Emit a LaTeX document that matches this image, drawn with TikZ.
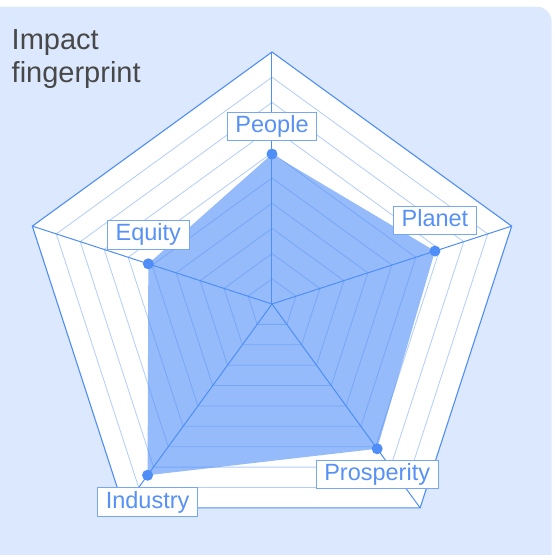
\documentclass[tikz,border=0pt]{standalone}
\usepackage{fontspec}
\setmainfont{Liberation Sans}
\usetikzlibrary{positioning}
\definecolor{bgblue}{RGB}{220,232,253}
\definecolor{axisblue}{RGB}{79,142,247}
\definecolor{gridblue}{RGB}{179,205,250}
\definecolor{tagblue}{RGB}{120,166,247}
\definecolor{textblue}{RGB}{88,145,245}
\definecolor{titlegrey}{RGB}{72,72,72}
\tikzstyle{gridline}=[gridblue,line width=0.8pt]
\tikzstyle{spoke}=[axisblue,line width=1pt]
\tikzstyle{datadot}=[circle,fill=axisblue,inner sep=0pt,minimum size=11pt]
\tikzstyle{tag}=[draw=tagblue,fill=white,line width=0.9pt,text=textblue,font=\fontsize{23.5}{24}\selectfont,inner xsep=8pt,inner ysep=3.2pt,text height=17pt,text depth=5pt]
\tikzstyle{titletext}=[anchor=base west,inner sep=0pt,text=titlegrey,font=\fontsize{29}{33}\selectfont]
\newcommand{\drawring}[2]{
\pgfmathsetmacro{\r}{#2}
\draw[#1] (90:\r) -- (18:\r) -- (-54:\r) -- (-126:\r) -- (162:\r) -- cycle;
}

\begin{document}
\begin{tikzpicture}[x=1pt,y=1pt]
	\pgfmathsetmacro{\radius}{252}
	\useasboundingbox (-272,-251) rectangle (283,304);
	\fill[bgblue,rounded corners=15pt] (-292,-271) rectangle (279.7,297.3);
	\fill[white] (90:\radius) -- (18:\radius) -- (-54:\radius) -- (-126:\radius) -- (162:\radius) -- cycle;
	\foreach \k in {1,2,...,9} {
		\drawring{gridline}{\radius*\k/10}
	}
	\coordinate (o) at (0,0);
	\foreach \a/\name in {90/top,18/right,-54/lowright,-126/lowleft,162/left}
		\coordinate (\name) at (\a:\radius);
	\foreach \a/\v/\name in {90/0.595/peopleval,18/0.68/planetval,-54/0.71/prosperityval,-126/0.84/industryval,162/0.516/equityval}
		\coordinate (\name) at (\a:{\v*\radius});
	\fill[axisblue,fill opacity=0.6] (peopleval) -- (planetval) -- (prosperityval) -- (industryval) -- (equityval) -- cycle;
	\foreach \name in {top,right,lowright,lowleft,left}
		\draw[spoke] (o) -- (\name);
	\draw[spoke,line width=1.1pt] (top) -- (right) -- (lowright) -- (lowleft) -- (left) -- cycle;
	\node[datadot] (people) at (peopleval) {};
	\node[datadot] (planet) at (planetval) {};
	\node[datadot] (prosperity) at (prosperityval) {};
	\node[datadot] (industry) at (industryval) {};
	\node[datadot] (equity) at (equityval) {};
	\node[tag,above=7.5pt of people] (peopletag) {People};
	\node[tag,above=10.5pt of planet] (planettag) {Planet};
	\node[tag,above=8.5pt of equity] (equitytag) {Equity};
	\node[tag,below=6.5pt of industry] (industrytag) {Industry};
	\node[tag,below=5.5pt of prosperity] (prosperitytag) {Prosperity};
	\node[titletext] (title) at (-260.5,254.7) {Impact};
	\node[titletext] (subtitle) at (-260.5,221.3) {fingerprint};
\end{tikzpicture}
\end{document}
